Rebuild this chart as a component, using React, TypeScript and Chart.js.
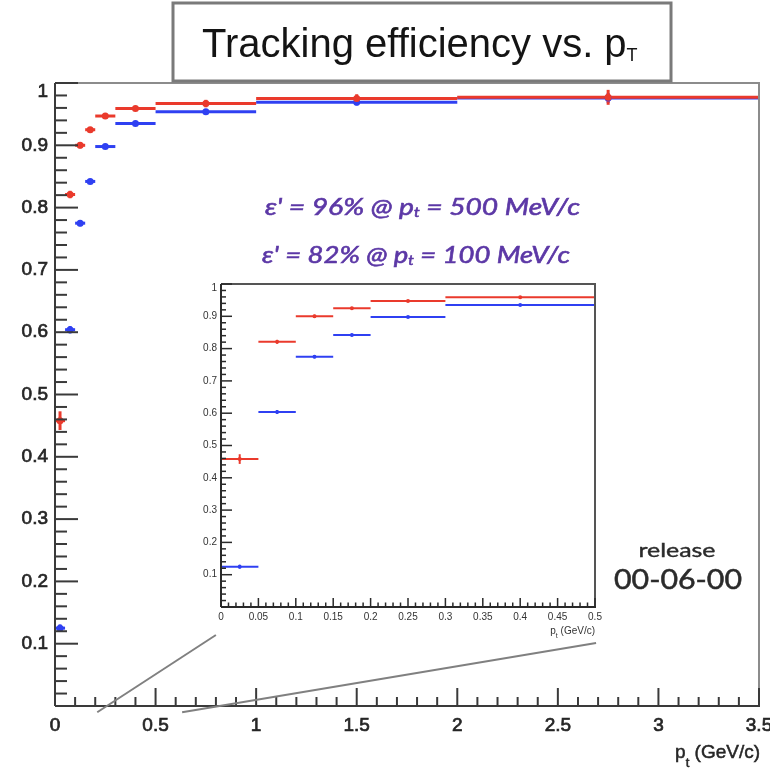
import React, { useEffect, useRef } from "react";
import { Chart, registerables } from "chart.js";
Chart.register(...registerables);

// ---------------- data ----------------
const binLow = [0, 0.05, 0.1, 0.15, 0.2, 0.3, 0.5, 1, 2];
const binHigh = [0.05, 0.1, 0.15, 0.2, 0.3, 0.5, 1, 2, 3.5];
const redEff = [0.458, 0.821, 0.9, 0.925, 0.947, 0.959, 0.967, 0.975, 0.977];
const redErr = [0.015, 0.006, 0.005, 0.004, 0.003, 0.003, 0.006, 0.007, 0.012];
const blueEff = [0.125, 0.604, 0.775, 0.842, 0.898, 0.935, 0.954, 0.969, 0.976];
const blueErr = [0.006, 0.006, 0.005, 0.004, 0.003, 0.003, 0.004, 0.005, 0.008];

const mainXTicks = [0, 0.5, 1, 1.5, 2, 2.5, 3, 3.5];
const mainXLabels = ["0", "0.5", "1", "1.5", "2", "2.5", "3", "3.5"];
const mainYTicks = [0.1, 0.2, 0.3, 0.4, 0.5, 0.6, 0.7, 0.8, 0.9, 1];
const mainYLabels = ["0.1", "0.2", "0.3", "0.4", "0.5", "0.6", "0.7", "0.8", "0.9", "1"];
const insetXTicks = [0, 0.05, 0.1, 0.15, 0.2, 0.25, 0.3, 0.35, 0.4, 0.45, 0.5];
const insetXLabels = ["0", "0.05", "0.1", "0.15", "0.2", "0.25", "0.3", "0.35", "0.4", "0.45", "0.5"];
const insetYTicks = [0.1, 0.2, 0.3, 0.4, 0.5, 0.6, 0.7, 0.8, 0.9, 1];
const insetYLabels = ["0.1", "0.2", "0.3", "0.4", "0.5", "0.6", "0.7", "0.8", "0.9", "1"];

const titleMain = "Tracking efficiency vs. p";
const titleSub = "T";
const axisTitleMain = "p";
const axisTitleSub = "t";
const axisTitleUnit = "(GeV/c)";
const annotEff = ["96%", "82%"];
const annotPt = ["500", "100"];
const releaseLines = ["release", "00-06-00"];

// zoom connector lines, in main-plot data coordinates
const connectorX = [[0.21, 0.8], [0.632, 2.69]];
const connectorY = [[-0.01, 0.114], [-0.01, 0.101]];

const RED = "#ea3a2c";
const BLUE = "#2f40f2";

// ---------------- helpers ----------------
type Piece = [string, string, number]; // text, font, dy

function drawPieces(ctx: CanvasRenderingContext2D, pieces: Piece[], x: number, y: number, color: string, align: "left" | "center" | "right", targetWidth?: number, stroke?: number) {
  ctx.save();
  ctx.fillStyle = color;
  ctx.strokeStyle = color;
  ctx.textBaseline = "alphabetic";
  ctx.textAlign = "left";
  let w = 0;
  for (const p of pieces) { ctx.font = p[1]; w += ctx.measureText(p[0]).width; }
  const sx = targetWidth ? targetWidth / w : 1;
  const total = w * sx;
  let x0 = align === "left" ? x : align === "center" ? x - total / 2 : x - total;
  ctx.translate(x0, y);
  ctx.scale(sx, 1);
  let cx = 0;
  for (const p of pieces) {
    ctx.font = p[1];
    ctx.fillText(p[0], cx, p[2]);
    if (stroke) { ctx.lineWidth = stroke; ctx.strokeText(p[0], cx, p[2]); }
    cx += ctx.measureText(p[0]).width;
  }
  ctx.restore();
}

function line(ctx: CanvasRenderingContext2D, x1: number, y1: number, x2: number, y2: number) {
  ctx.beginPath(); ctx.moveTo(x1, y1); ctx.lineTo(x2, y2); ctx.stroke();
}

function drawBins(chart: any, eff: number[], err: number[], color: string, lw: number) {
  const ctx: CanvasRenderingContext2D = chart.ctx;
  const xs = chart.scales.x, ys = chart.scales.y;
  ctx.save();
  ctx.strokeStyle = color;
  ctx.lineWidth = lw;
  for (let i = 0; i < eff.length; i++) {
    if (binLow[i] >= xs.max) continue;
    const y = ys.getPixelForValue(eff[i]);
    const x1 = xs.getPixelForValue(binLow[i]);
    const x2 = xs.getPixelForValue(Math.min(binHigh[i], xs.max));
    const xc = xs.getPixelForValue((binLow[i] + binHigh[i]) / 2);
    line(ctx, x1, y, x2, y);
    line(ctx, xc, ys.getPixelForValue(eff[i] - err[i]), xc, ys.getPixelForValue(eff[i] + err[i]));
  }
  ctx.restore();
}

function drawAxes(chart: any, o: any) {
  const ctx: CanvasRenderingContext2D = chart.ctx;
  const a = chart.chartArea;
  const xs = chart.scales.x, ys = chart.scales.y;
  ctx.save();
  // frame top & right
  ctx.strokeStyle = o.frameColor; ctx.lineWidth = o.frameWidth;
  line(ctx, a.left, a.top, a.right + 1, a.top);
  line(ctx, a.right, a.top, a.right, a.bottom);
  // axes
  ctx.strokeStyle = o.axisColor; ctx.lineWidth = o.axisWidth;
  line(ctx, a.left, a.top, a.left, a.bottom);
  line(ctx, a.left, a.bottom, a.right + 1, a.bottom);
  // ticks
  ctx.lineWidth = o.tickWidth;
  const nx = Math.round((xs.max - xs.min) / o.xMinor);
  for (let i = 0; i <= nx; i++) {
    const v = xs.min + i * o.xMinor;
    const major = o.xTicks.some((t: number) => Math.abs(t - v) < 1e-9);
    const px = xs.getPixelForValue(v);
    line(ctx, px, a.bottom, px, a.bottom - (major ? o.xMajLen : o.xMinLen));
  }
  const ny = Math.round((ys.max - ys.min) / o.yMinor);
  for (let i = 0; i <= ny; i++) {
    const v = ys.min + i * o.yMinor;
    const major = o.yTicks.some((t: number) => Math.abs(t - v) < 1e-9);
    const py = ys.getPixelForValue(v);
    line(ctx, a.left, py, a.left + (major ? o.yMajLen : o.yMinLen), py);
  }
  // labels
  ctx.fillStyle = o.labelColor;
  ctx.strokeStyle = o.labelColor;
  ctx.lineWidth = o.labelStroke || 0;
  ctx.font = o.labelFont;
  ctx.textAlign = "center";
  ctx.textBaseline = "top";
  const put = (s: string, x: number, y: number) => {
    ctx.fillText(s, x, y);
    if (o.labelStroke) ctx.strokeText(s, x, y);
  };
  o.xTicks.forEach((t: number, i: number) => {
    put(o.xLabels[i], xs.getPixelForValue(t), a.bottom + o.xLabelPad);
  });
  ctx.textAlign = "right";
  o.yTicks.forEach((t: number, i: number) => {
    const last = i === o.yTicks.length - 1;
    ctx.textBaseline = last ? "top" : "middle";
    put(o.yLabels[i], a.left - o.yLabelPad, ys.getPixelForValue(t) + (last ? -1 : 0));
  });
  ctx.restore();
}

// ---------------- main plot ----------------
const mainPlugin = {
  id: "mainDecor",
  beforeDatasetsDraw(chart: any) {
    drawBins(chart, blueEff, blueErr, BLUE, 3);
    drawBins(chart, redEff, redErr, RED, 3);
  },
  afterDraw(chart: any) {
    const ctx: CanvasRenderingContext2D = chart.ctx;
    const xs = chart.scales.x, ys = chart.scales.y;
    drawAxes(chart, {
      frameColor: "#8c8c8c", frameWidth: 2, axisColor: "#3a3a3a", axisWidth: 2, tickWidth: 2,
      xMinor: 0.1, xTicks: mainXTicks, xLabels: mainXLabels, xMajLen: 18, xMinLen: 9,
      yMinor: 0.02, yTicks: mainYTicks, yLabels: mainYLabels, yMajLen: 23, yMinLen: 12,
      labelColor: "#262626", labelFont: "19px 'Liberation Sans', Arial, sans-serif", labelStroke: 0.7,
      xLabelPad: 10, yLabelPad: 7,
    });
    // connector lines
    ctx.save();
    ctx.strokeStyle = "#808080"; ctx.lineWidth = 2;
    for (let i = 0; i < connectorX.length; i++) {
      line(ctx, xs.getPixelForValue(connectorX[i][0]), ys.getPixelForValue(connectorY[i][0]),
        xs.getPixelForValue(connectorX[i][1]), ys.getPixelForValue(connectorY[i][1]));
    }
    ctx.restore();
    // axis title
    drawPieces(ctx, [
      [axisTitleMain, "19px 'Liberation Sans', Arial, sans-serif", 0],
      [axisTitleSub, "13px 'Liberation Sans', Arial, sans-serif", 9],
      [" " + axisTitleUnit, "19px 'Liberation Sans', Arial, sans-serif", 0],
    ], 760, 758, "#262626", "right", undefined, 0.5);
    // title box
    ctx.save();
    ctx.fillStyle = "#ffffff";
    ctx.fillRect(173, 3, 498, 78);
    ctx.strokeStyle = "#7a7a7a"; ctx.lineWidth = 3;
    ctx.strokeRect(173, 3, 498, 78);
    ctx.restore();
    drawPieces(ctx, [
      [titleMain, "40px 'Liberation Sans', Arial, sans-serif", 0],
      [titleSub, "18px 'Liberation Sans', Arial, sans-serif", 4],
    ], 202, 57, "#141414", "left");
    // annotations
    const af = "italic 23px Lato, 'Open Sans', sans-serif";
    const sf = "italic 13px Lato, 'Open Sans', sans-serif";
    const ann = [[265, 215, 315], [262, 263, 308]];
    for (let i = 0; i < annotEff.length; i++) {
      drawPieces(ctx, [
        ["ε' = " + annotEff[i] + " @ p", af, 0],
        ["t", sf, 2],
        [" = " + annotPt[i] + " MeV/c", af, 0],
      ], ann[i][0], ann[i][1], "#5c38a6", "left", ann[i][2], 0.6);
    }
    // release text
    drawPieces(ctx, [[releaseLines[0], "20px Lato, sans-serif", 0]], 677, 557, "#2b2b2b", "center", 77, 0.4);
    drawPieces(ctx, [[releaseLines[1], "27px Lato, sans-serif", 0]], 678, 589, "#2b2b2b", "center", 128, 0.5);
  },
};

// ---------------- inset plot ----------------
const insetPlugin = {
  id: "insetDecor",
  beforeDatasetsDraw(chart: any) {
    drawBins(chart, blueEff, blueErr, BLUE, 2);
    drawBins(chart, redEff, redErr, RED, 2);
  },
  afterDraw(chart: any) {
    const ctx: CanvasRenderingContext2D = chart.ctx;
    const a = chart.chartArea;
    drawAxes(chart, {
      frameColor: "#555555", frameWidth: 2, axisColor: "#2a2a2a", axisWidth: 2, tickWidth: 1.5,
      xMinor: 0.01, xTicks: insetXTicks, xLabels: insetXLabels, xMajLen: 9, xMinLen: 4.5,
      yMinor: 0.02, yTicks: insetYTicks, yLabels: insetYLabels, yMajLen: 11, yMinLen: 5,
      labelColor: "#333333", labelFont: "10px 'Liberation Sans', Arial, sans-serif",
      xLabelPad: 5, yLabelPad: 4,
    });
    drawPieces(ctx, [
      [axisTitleMain, "10px 'Liberation Sans', Arial, sans-serif", 0],
      [axisTitleSub, "7px 'Liberation Sans', Arial, sans-serif", 4],
      [" " + axisTitleUnit, "10px 'Liberation Sans', Arial, sans-serif", 0],
    ], a.right, a.bottom + 27, "#333333", "right");
  },
};

function points(eff: number[], maxX: number) {
  const out: { x: number; y: number }[] = [];
  for (let i = 0; i < eff.length; i++) {
    if (binLow[i] >= maxX) continue;
    out.push({ x: (binLow[i] + binHigh[i]) / 2, y: eff[i] });
  }
  return out;
}

function makeConfig(maxX: number, radius: number, padding: any, plugin: any): any {
  return {
    type: "scatter",
    data: {
      datasets: [
        { label: "red", data: points(redEff, maxX), backgroundColor: RED, borderWidth: 0, pointRadius: radius, pointStyle: "circle" },
        { label: "blue", data: points(blueEff, maxX), backgroundColor: BLUE, borderWidth: 0, pointRadius: radius, pointStyle: "circle" },
      ],
    },
    options: {
      responsive: false,
      maintainAspectRatio: false,
      animation: false,
      devicePixelRatio: 1,
      layout: { padding },
      plugins: { legend: { display: false }, tooltip: { enabled: false }, title: { display: false } },
      scales: {
        x: { type: "linear", min: 0, max: maxX, display: false },
        y: { type: "linear", min: 0, max: 1, display: false },
      },
    },
    plugins: [plugin],
  };
}

export default function App() {
  const mainRef = useRef<HTMLCanvasElement>(null);
  const insetRef = useRef<HTMLCanvasElement>(null);
  useEffect(() => {
    document.body.style.margin = "0";
    const main = new Chart(mainRef.current!, makeConfig(3.5, 3.5, { left: 55, top: 83, right: 11, bottom: 65 }, mainPlugin));
    const inset = new Chart(insetRef.current!, makeConfig(0.5, 2, { left: 41, top: 14, right: 25, bottom: 43 }, insetPlugin));
    return () => { main.destroy(); inset.destroy(); };
  }, []);
  return (
    <div style={{ position: "relative", width: 770, height: 771, background: "#ffffff", overflow: "hidden" }}>
      <canvas ref={mainRef} width={770} height={771} style={{ position: "absolute", left: 0, top: 0 }} />
      <canvas ref={insetRef} width={440} height={380} style={{ position: "absolute", left: 180, top: 270 }} />
    </div>
  );
}
